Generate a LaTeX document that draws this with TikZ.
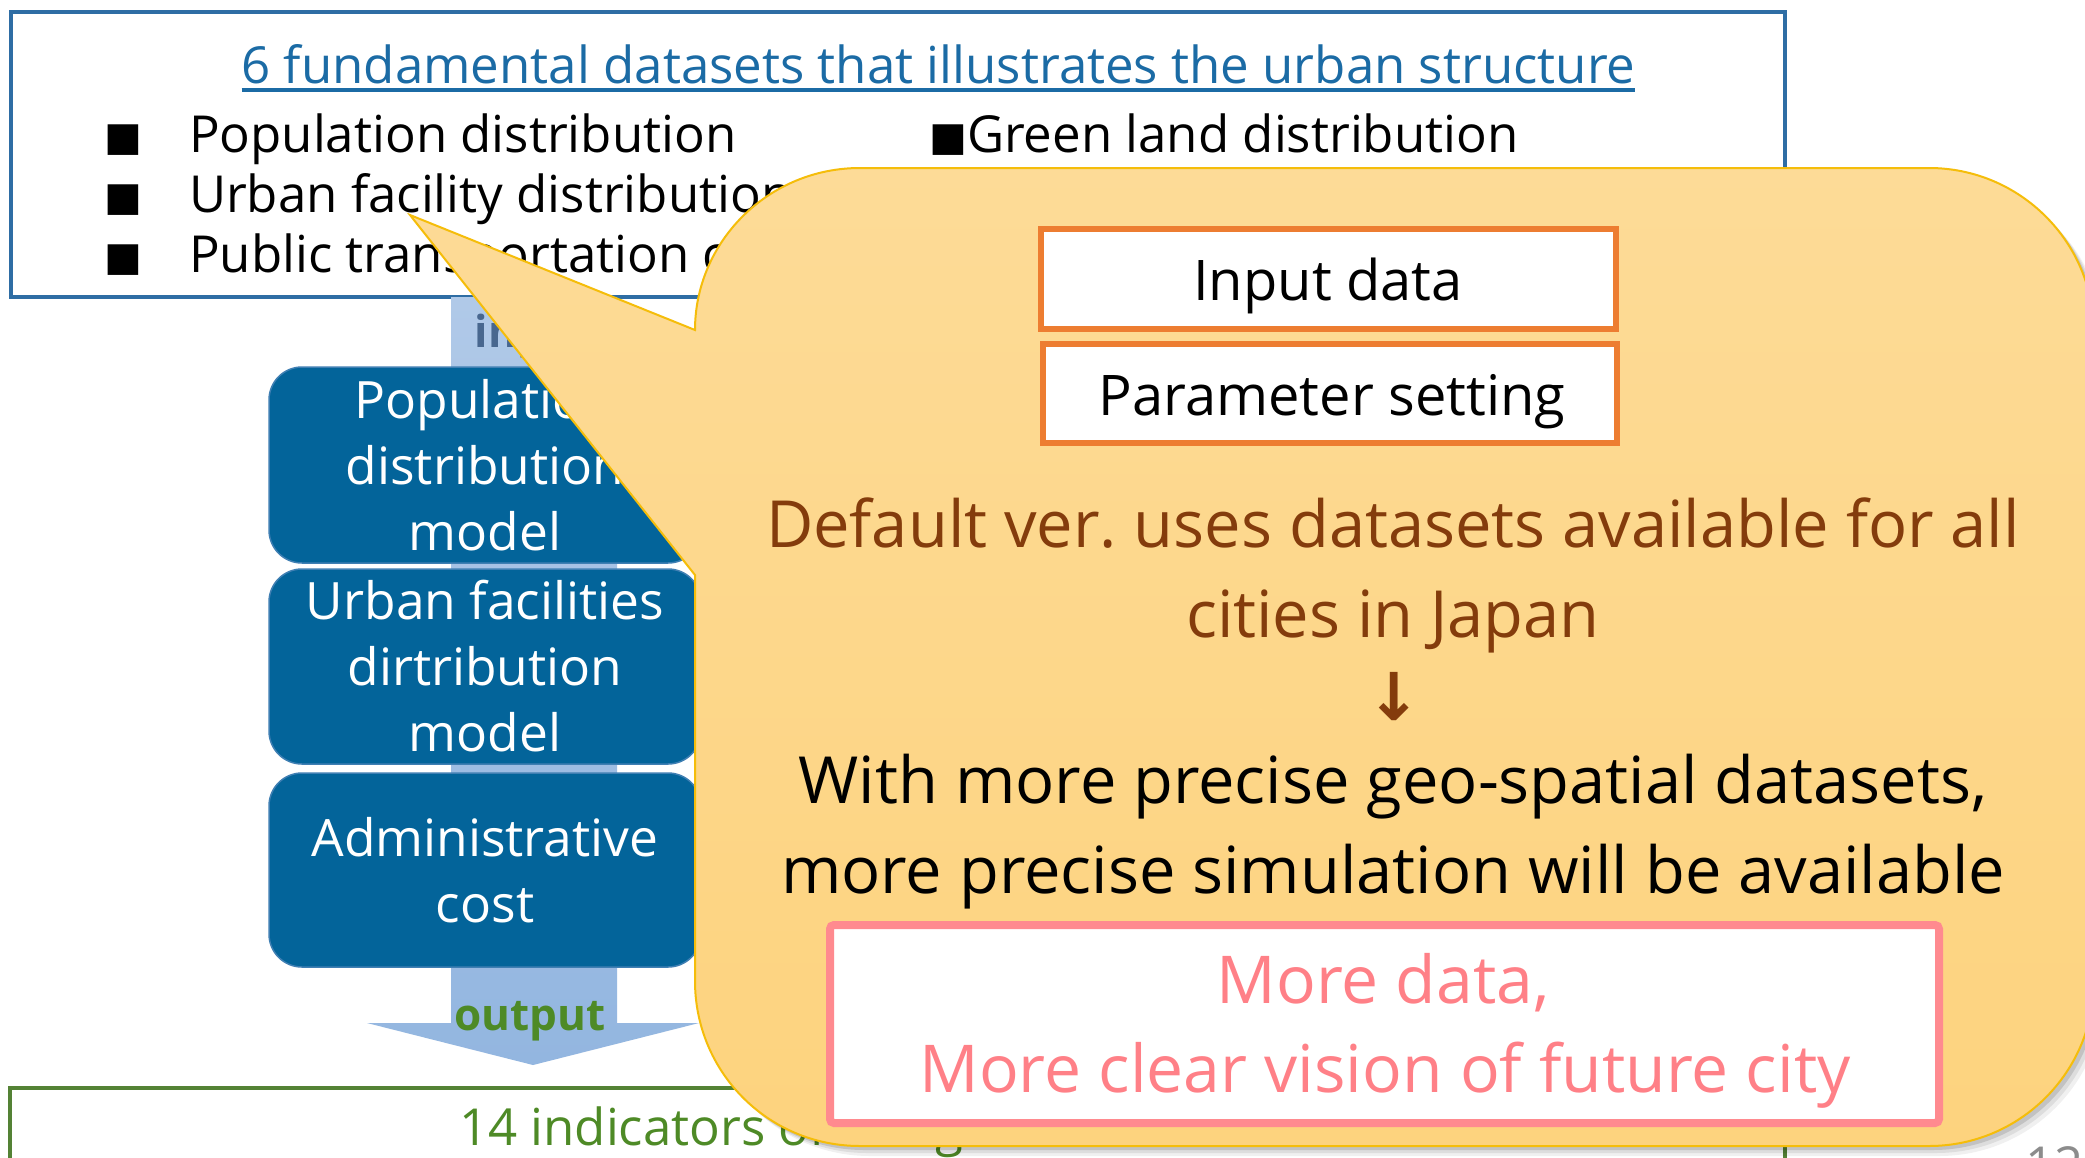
\documentclass[tikz,border=0pt]{standalone}
\usepackage{fontspec}
\setmainfont{Open Sans}
\newfontfamily\symfont{DejaVu Sans}
\frenchspacing
\definecolor{topblue}{HTML}{2E6DA4}
\definecolor{titleblue}{HTML}{1B6BA5}
\definecolor{bandtop}{HTML}{B0C9E8}
\definecolor{bandbot}{HTML}{93B6E0}
\definecolor{inputgray}{HTML}{48678F}
\definecolor{modelblue}{HTML}{03649A}
\definecolor{modelborder}{HTML}{3F7FB3}
\definecolor{outgreen}{HTML}{4E8A26}
\definecolor{boxgreen}{HTML}{548235}
\definecolor{callouttop}{HTML}{FDDB97}
\definecolor{calloutbot}{HTML}{FDD37E}
\definecolor{calloutline}{HTML}{F5BD0A}
\definecolor{orangeline}{HTML}{ED7D31}
\definecolor{browntext}{HTML}{843C0C}
\definecolor{pinkline}{HTML}{FF8A8F}
\definecolor{pinktext}{HTML}{FF8087}
\definecolor{pagegray}{HTML}{8C8C8C}
\tikzset{
  txt/.style={inner sep=0pt, outer sep=0pt},
  fsA/.style={font=\fontsize{51}{61}\selectfont},
  fsB/.style={font=\fontsize{65}{77}\selectfont},
  fsP/.style={font=\fontsize{66}{78}\selectfont},
  fsI/.style={font=\fontsize{56}{66}\selectfont},
  bulglyph/.style={txt, font=\symfont\fontsize{40}{48}\selectfont},
  modelbox/.style={rounded corners=33pt, fill=modelblue, draw=modelborder, line width=1.5pt,
     text=white, align=center, minimum width=432pt, inner sep=0pt,
     font=\fontsize{51.5}{66}\selectfont},
  orangebox/.style={draw=orangeline, line width=6pt, fill=white, inner sep=0pt},
  pinkbox/.style={draw=pinkline, line width=8pt, fill=white, rounded corners=4pt, inner sep=0pt},
}
\def\calloutshape{(410,215) -- (695,330) .. controls (695,242) and (768,168) .. (860,168)
  -- (1929,168) .. controls (2020,168) and (2094,242) .. (2094,333)
  -- (2094,981) .. controls (2094,1072) and (2020,1146) .. (1929,1146)
  -- (860,1146) .. controls (768,1146) and (695,1072) .. (695,981)
  -- (695,575) -- cycle}
\begin{document}
\begin{tikzpicture}[x=1pt,y=-1pt]
\useasboundingbox (0,0) rectangle (2085,1157);
\fill[white] (0,0) rectangle (2085,1157);

% top box with the six datasets
\node[draw=topblue, line width=4pt, minimum width=1774pt, minimum height=285pt, inner sep=0pt] (topbox) at (898,154.5) {};
\node[txt, fsA, anchor=base, text=titleblue] (title) at (938.5,83) {6 fundamental datasets that illustrates the urban structure};
\draw[titleblue, line width=3.5pt] ([yshift=-7pt]title.base west) -- ([yshift=-7pt]title.base east);

\node[bulglyph, anchor=base west] (b1) at (104,150) {■};
\node[bulglyph, anchor=base west] (b2) at (104,210) {■};
\node[bulglyph, anchor=base west] (b3) at (104,270) {■};
\node[txt, fsA, anchor=base west] (t1) at (189,152) {Population distribution};
\node[txt, fsA, anchor=base west] (t2) at (189,212) {Urban facility distribution};
\node[txt, fsA, anchor=base west] (t3) at (189,272) {Public transportation coverage};
\node[bulglyph, anchor=base west] (b4) at (929,150) {■};
\node[txt, fsA, anchor=base west] (t4) at (967,152) {Green land distribution};

% big input / output arrow
\shade[top color=bandtop, bottom color=bandbot] (451,297) -- (617,297) -- (617,1023) -- (699,1023) -- (533,1065) -- (367,1023) -- (451,1023) -- cycle;
\node[txt, anchor=base, text=inputgray, font=\bfseries\fontsize{44}{52}\selectfont] (inlbl) at (534,347) {input};
\node[txt, anchor=base, text=outgreen, font=\bfseries\fontsize{44}{52}\selectfont] (outlbl) at (530,1030) {output};

% model boxes
\node[modelbox, minimum height=196pt] (m1) at (485,465) {Population\\distribution\\model};
\node[modelbox, minimum height=195pt] (m2) at (485,666.5) {Urban facilities\\dirtribution\\model};
\node[modelbox, minimum height=194pt] (m3) at (485,870) {Administrative\\cost};

% bottom box
\node[draw=boxgreen, line width=4pt, minimum width=1775pt, minimum height=200pt, inner sep=0pt] (botbox) at (897.5,1188) {};
\node[txt, fsA, anchor=base west, text=outgreen] (ind) at (459,1145) {14 indicators of living environment};
\node[txt, fsA, anchor=base west, text=pagegray] (pg) at (2025,1183) {12};

% callout
\foreach \s/\o in {10/0.06,7/0.08,4/0.12}{
  \fill[black, opacity=\o, xshift=\s pt, yshift=-\s pt] \calloutshape;
}
\path[draw=calloutline, line width=2pt, top color=callouttop, bottom color=calloutbot] \calloutshape;

\node[orangebox, minimum width=575pt, minimum height=100pt] (inbox) at (1328.5,279) {};
\node[txt, fsI, anchor=base] (intxt) at (1328,300) {Input data};
\node[orangebox, minimum width=574pt, minimum height=99pt] (parbox) at (1330,393.5) {};
\node[txt, fsI, anchor=base] (partxt) at (1332,415) {Parameter setting};

\node[txt, fsB, anchor=base, text=browntext] (l1) at (1393,547) {Default ver. uses datasets available for all};
\node[txt, fsB, anchor=base, text=browntext] (l2) at (1393,637) {cities in Japan};
\node[txt, anchor=base, text=browntext, font=\symfont\bfseries\fontsize{66}{76}\selectfont] (arr) at (1394,720) {↓};
\node[txt, fsB, anchor=base] (l3) at (1393,803) {With more precise geo-spatial datasets,};
\node[txt, fsB, anchor=base] (l4) at (1393,893) {more precise simulation will be available};

\node[pinkbox, minimum width=1109pt, minimum height=198pt] (pink) at (1384.5,1024) {};
\node[txt, fsP, anchor=base, text=pinktext] (p1) at (1383,1003) {More data,};
\node[txt, fsP, anchor=base, text=pinktext] (p2) at (1385,1092) {More clear vision of future city};
\end{tikzpicture}
\end{document}
